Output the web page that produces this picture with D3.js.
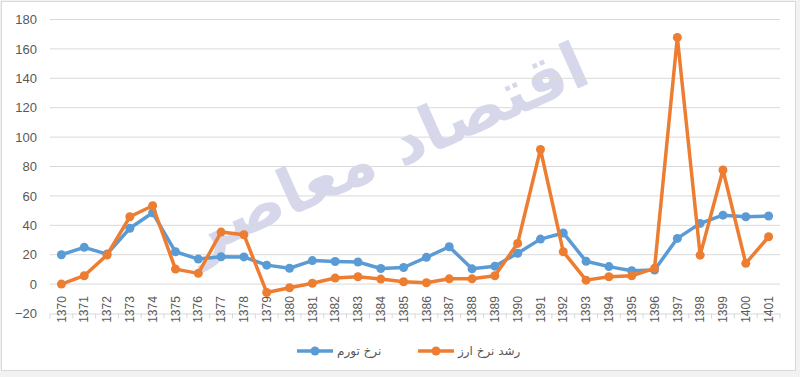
<!DOCTYPE html>
<html>
<head>
<meta charset="utf-8">
<script src="https://cdn.jsdelivr.net/npm/d3@7"></script>
<style>
  body { margin: 0; background: #fff; }
  svg { display: block; font-family: Lato, "DejaVu Sans", sans-serif; }
</style>
</head>
<body>
<div id="chart"></div>
<script>
    // years (solar hijri)
    var years = ['1370', '1371', '1372', '1373', '1374', '1375', '1376', '1377', '1378', '1379',
        '1380', '1381', '1382', '1383', '1384', '1385', '1386', '1387', '1388', '1389',
        '1390', '1391', '1392', '1393', '1394', '1395', '1396', '1397', '1398', '1399',
        '1400', '1401'];

    // inflation rate
    var inflation = [20, 25, 20.4, 38, 48.5, 22, 17, 18.6, 18.5, 12.9,
        10.8, 16, 15.4, 15, 10.6, 11.3, 18.2, 25.4, 10.4, 12.2,
        21, 30.6, 34.8, 15.5, 11.9, 9.1, 9.6, 31.1, 41.3, 46.9,
        45.8, 46.3];

    // exchange rate growth
    var fxGrowth = [0, 5.7, 19.8, 45.8, 53.3, 10.2, 7.3, 35.4, 33.6, -5.7,
        -2.5, 0.6, 4.1, 5, 3.4, 1.6, 0.9, 3.6, 3.6, 5.7,
        27.7, 91.6, 22, 2.7, 5, 5.7, 10.7, 167.8, 19.7, 77.6,
        14.1, 32.2];

    var yTicks = [-20, 0, 20, 40, 60, 80, 100, 120, 140, 160, 180];

    var seriesNames = ['نرخ تورم', 'رشد نرخ ارز'];
    var seriesColors = ['#5B9BD5', '#ED7D31'];

    var width = 800, height = 377;
    var margin = { left: 50, right: 20, top: 19.5, bottom: 63.5 };

    var svg = d3.select('#chart').append('svg')
        .attr('width', width)
        .attr('height', height);

    // chart frame
    svg.append('rect')
        .attr('x', 0).attr('y', 0)
        .attr('width', width).attr('height', height)
        .attr('fill', '#f2f2f2');
    svg.append('rect')
        .attr('x', 1.5).attr('y', 1.5)
        .attr('width', width - 6).attr('height', 369)
        .attr('fill', '#fff')
        .attr('stroke', '#d9d9d9');

    var x = d3.scaleBand()
        .domain(years)
        .range([margin.left, width - margin.right]);

    var y = d3.scaleLinear()
        .domain([-20, 180])
        .range([height - margin.bottom, margin.top]);

    // watermark logo, faint
    svg.append('text')
        .attr('transform', 'translate(395,170) rotate(-24)')
        .attr('text-anchor', 'middle')
        .attr('fill', '#c9cae3')
        .attr('opacity', 0.75)
        .style('font-family', '"DejaVu Sans", sans-serif')
        .style('font-weight', 'bold')
        .style('font-size', '64px')
        .text('اقتصاد معاصر');

    // gridlines
    svg.append('g')
        .selectAll('line')
        .data(yTicks.filter(function (d) { return d !== -20; }))
        .enter()
        .append('line')
        .attr('x1', margin.left).attr('x2', width - margin.right)
        .attr('y1', function (d) { return y(d); })
        .attr('y2', function (d) { return y(d); })
        .attr('stroke', '#d9d9d9')
        .attr('stroke-width', 1);

    // y axis labels
    var yAxis = d3.axisLeft(y).tickValues(yTicks).tickSize(0).tickPadding(13);
    var gy = svg.append('g')
        .attr('transform', 'translate(' + margin.left + ',0)')
        .call(yAxis);
    gy.select('.domain').remove();
    gy.selectAll('text')
        .attr('fill', '#595959')
        .style('font-size', '13px');

    // x axis at -20
    var xAxis = d3.axisBottom(x).tickSize(0).tickPadding(0);
    var gx = svg.append('g')
        .attr('transform', 'translate(0,' + y(-20) + ')')
        .call(xAxis);
    gx.select('.domain').attr('stroke', '#d9d9d9');
    gx.selectAll('text')
        .attr('fill', '#595959')
        .style('font-size', '12px')
        .attr('text-anchor', 'middle')
        .attr('dy', '0.35em')
        .attr('transform', 'translate(0,-4) rotate(-90)');
    gx.selectAll('.tickmark')
        .data(years.concat(['end']))
        .enter()
        .append('line')
        .attr('class', 'tickmark')
        .attr('x1', function (d, i) { return margin.left + i * x.step(); })
        .attr('x2', function (d, i) { return margin.left + i * x.step(); })
        .attr('y1', 0).attr('y2', 5)
        .attr('stroke', '#d9d9d9');

    var line = d3.line()
        .x(function (d, i) { return x(years[i]) + x.bandwidth() / 2; })
        .y(function (d) { return y(d); });

    [inflation, fxGrowth].forEach(function (series, k) {
        var g = svg.append('g');
        g.append('path')
            .datum(series)
            .attr('d', line)
            .attr('fill', 'none')
            .attr('stroke', seriesColors[k])
            .attr('stroke-width', 3.5)
            .attr('stroke-linejoin', 'round');
        g.selectAll('circle')
            .data(series)
            .enter()
            .append('circle')
            .attr('cx', function (d, i) { return x(years[i]) + x.bandwidth() / 2; })
            .attr('cy', function (d) { return y(d); })
            .attr('r', 4.5)
            .attr('fill', seriesColors[k]);
    });

    // legend
    var legendItems = [
        { x: 297, name: seriesNames[0], color: seriesColors[0] },
        { x: 418, name: seriesNames[1], color: seriesColors[1] }
    ];
    var legend = svg.selectAll('.legend')
        .data(legendItems)
        .enter()
        .append('g')
        .attr('class', 'legend')
        .attr('transform', function (d) { return 'translate(' + d.x + ',351)'; });
    legend.append('line')
        .attr('x1', 0).attr('x2', 36)
        .attr('stroke', function (d) { return d.color; })
        .attr('stroke-width', 3.5);
    legend.append('circle')
        .attr('cx', 18).attr('r', 4.5)
        .attr('fill', function (d) { return d.color; });
    legend.append('text')
        .attr('x', 40)
        .attr('dy', '0.35em')
        .attr('fill', '#595959')
        .style('font-family', '"DejaVu Sans", sans-serif')
        .style('font-size', '12px')
        .text(function (d) { return d.name; });
</script>
</body>
</html>
